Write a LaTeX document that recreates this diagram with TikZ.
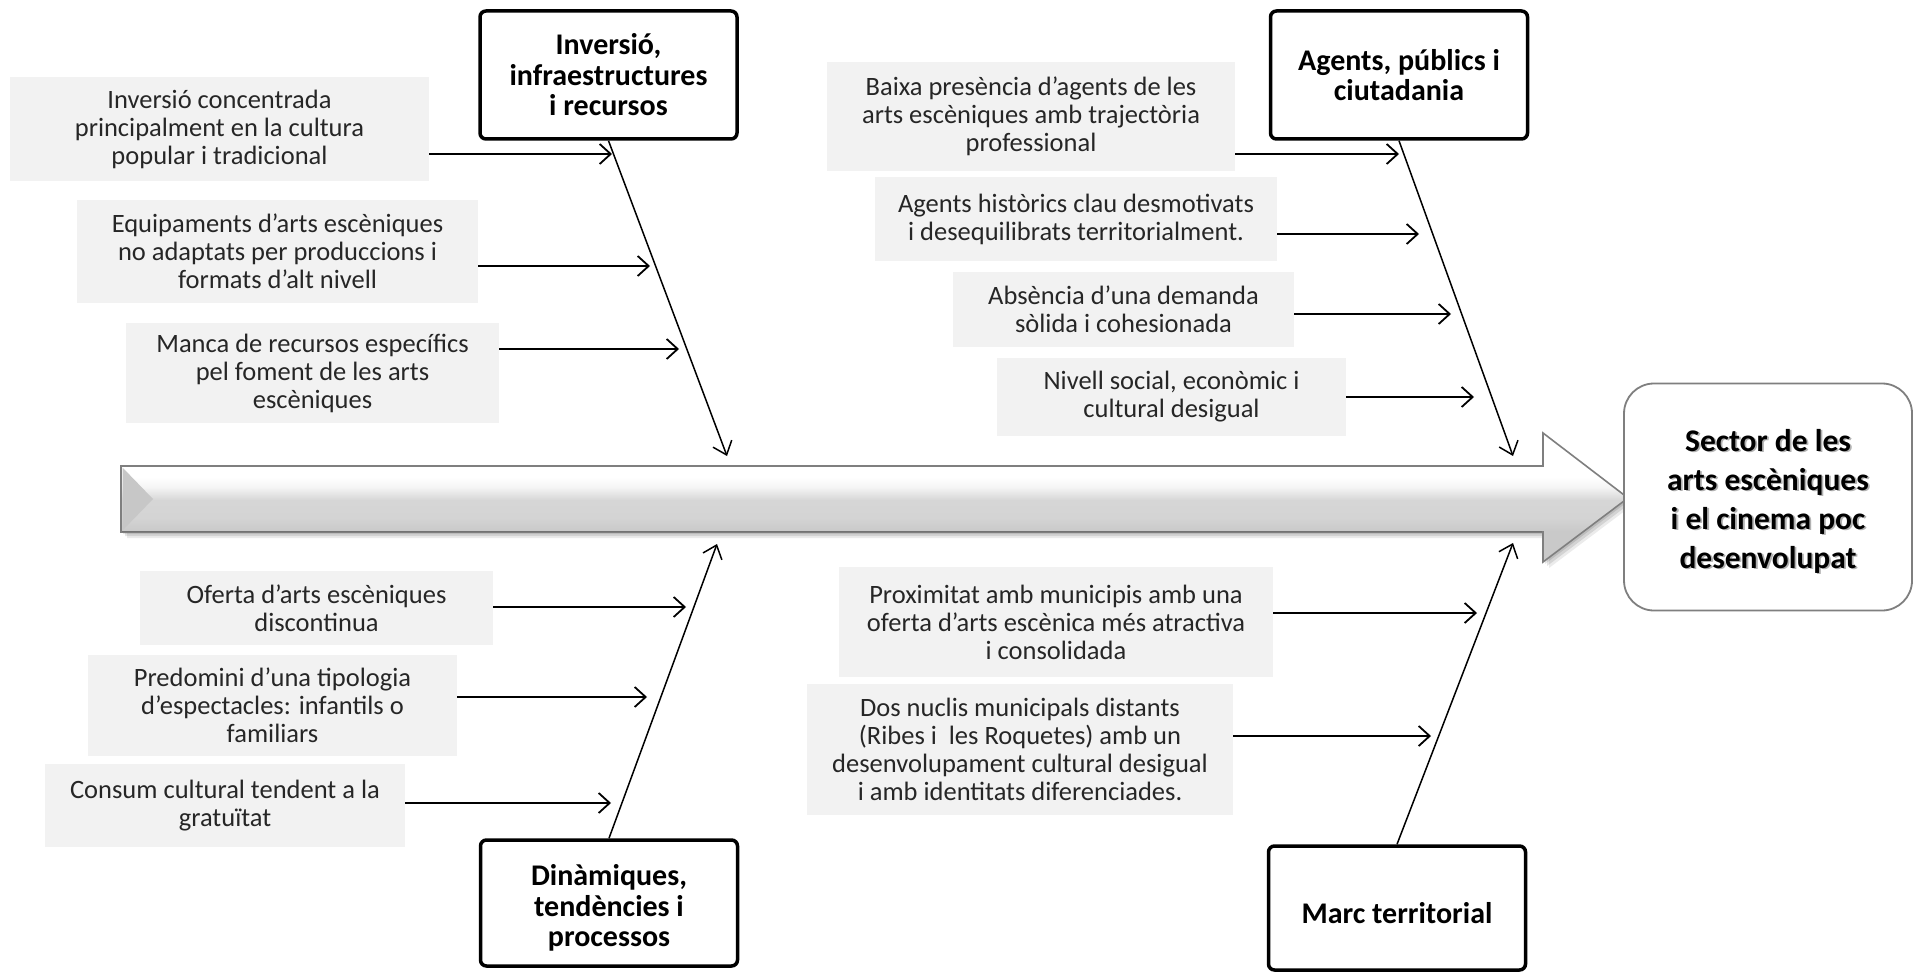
\documentclass[tikz,border=0pt]{standalone}
\usepackage{fontspec}
\setmainfont{Carlito}
\usetikzlibrary{arrows.meta}
\definecolor{boxgray}{HTML}{F2F2F2}
\definecolor{txt}{HTML}{262626}
\definecolor{edgegray}{HTML}{7F7F7F}
\pgfdeclareverticalshading{spineshade}{100bp}{color(0bp)=(black!22); color(37bp)=(black!21); color(42bp)=(black!17); color(49bp)=(black!16); color(54bp)=(black!4); color(58bp)=(white); color(100bp)=(white)}
\newcommand\shtxt[1]{\makebox[0pt][l]{\hspace{1.8pt}\raisebox{-1.8pt}{\color{black!30}#1}}#1}
\begin{document}
\begin{tikzpicture}[x=1pt,y=-1pt,
  gbox/.style={fill=boxgray, inner sep=0pt, align=center, text=txt, font=\fontsize{26.5}{28}\selectfont},
  catbox/.style={draw=black, line width=3.5pt, rounded corners=6pt, fill=white, inner sep=0pt, align=center, font=\bfseries\fontsize{30}{30.5}\selectfont, minimum width=257pt},
  feed/.style={-{Straight Barb[length=11pt,width=20pt,line width=1.8pt]}, line width=2pt, black},
  spine/.style={-{Straight Barb[length=12pt,width=20pt,line width=1.5pt]}, line width=1.5pt, black}]
\useasboundingbox (0,0) rectangle (1913,973);
\fill[white] (0,0) rectangle (1913,973);

% big arrow shadow
\foreach \d/\o in {2/0.10,4/0.10,6/0.08}{
  \fill[black, opacity=\o, shift={(\d,\d)}] (121,466) -- (1543,466) -- (1543,433) -- (1628,498) -- (1543,562) -- (1543,532) -- (121,532) -- cycle;
}
% big arrow
\draw[draw=edgegray, line width=1.6pt, shading=spineshade] (121,466) -- (1543,466) -- (1543,433) -- (1628,498) -- (1543,562) -- (1543,532) -- (121,532) -- cycle;
\fill[black!22] (122.5,467.5) -- (153,499) -- (122.5,530.5) -- cycle;
\draw[black!55, line width=1pt] (122,531) -- (1542,531);

% goal box
\node[draw=edgegray, line width=1.8pt, rounded corners=30pt, fill=white, minimum width=288pt, minimum height=227pt, align=center, inner sep=0pt, font=\bfseries\fontsize{31.5}{39}\selectfont] (goal) at (1768,497) {\rule{0pt}{32pt}\shtxt{Sector de les}\\\shtxt{arts escèniques}\\\shtxt{i el cinema poc}\\\shtxt{desenvolupat}};

% category boxes
\node[catbox, minimum height=128pt] (b1) at (608.5,75) {Inversió,\\infraestructures\\i recursos};
\node[catbox, minimum height=128pt] (b2) at (1399,75) {Agents, públics i\\ciutadania};
\node[catbox, minimum height=126pt] (b3) at (609,903) {\rule{0pt}{31pt}Dinàmiques,\\tendències i\\processos};
\node[catbox, minimum height=124pt] (b4) at (1397,908) {\rule{0pt}{32pt}Marc territorial};

% cause boxes
\node[gbox, minimum width=419pt, minimum height=104pt] (t1) at (219.5,129) {Inversió concentrada\\principalment en la cultura\\popular i tradicional};
\node[gbox, minimum width=401pt, minimum height=103pt] (t2) at (277.5,251.5) {Equipaments d’arts escèniques\\no adaptats per produccions i\\formats d’alt nivell};
\node[gbox, minimum width=373pt, minimum height=100pt] (t3) at (312.5,373) {Manca de recursos específics\\pel foment de les arts\\escèniques};
\node[gbox, minimum width=408pt, minimum height=109pt] (t4) at (1031,116.5) {Baixa presència d’agents de les\\arts escèniques amb trajectòria\\professional};
\node[gbox, minimum width=402pt, minimum height=84pt] (t5) at (1076,219) {Agents històrics clau desmotivats\\i desequilibrats territorialment.};
\node[gbox, minimum width=341pt, minimum height=75pt] (t6) at (1123.5,309.5) {Absència d’una demanda\\sòlida i cohesionada};
\node[gbox, minimum width=349pt, minimum height=78pt] (t7) at (1171.5,397) {Nivell social, econòmic i\\cultural desigual};
\node[gbox, minimum width=353pt, minimum height=74pt] (t8) at (316.5,608) {Oferta d’arts escèniques\\discontinua};
\node[gbox, minimum width=369pt, minimum height=101pt] (t9) at (272.5,705) {Predomini d’una tipologia\\d’espectacles: infantils o\\familiars};
\node[gbox, minimum width=360pt, minimum height=83pt] (t10) at (225,805.5) {Consum cultural tendent a la\\gratuïtat};
\node[gbox, minimum width=434pt, minimum height=110pt] (t11) at (1056,622) {Proximitat amb municipis amb una\\oferta d’arts escènica més atractiva\\i consolidada};
\node[gbox, minimum width=426pt, minimum height=131pt] (t12) at (1020,749.5) {Dos nuclis municipals distants\\(Ribes i\ \ les Roquetes) amb un\\desenvolupament cultural desigual\\i amb identitats diferenciades.};

% spine tips
\coordinate (s1) at (727,456);
\coordinate (s2) at (1513,456);
\coordinate (s3) at (717,544);
\coordinate (s4) at (1513,543);
\draw[spine] (b1.south) -- (s1);
\draw[spine] (b2.south) -- (s2);
\draw[spine] (b3.north) -- (s3);
\draw[spine] (b4.north) -- (s4);

% feed arrow ends
\coordinate (e1) at (612,154);
\coordinate (e2) at (650,266);
\coordinate (e3) at (679,349);
\coordinate (e4) at (1399,154);
\coordinate (e5) at (1419,234);
\coordinate (e6) at (1451,314);
\coordinate (e7) at (1474,397);
\coordinate (e8) at (686,607);
\coordinate (e9) at (647,697);
\coordinate (e10) at (611,803);
\coordinate (e11) at (1477,613);
\coordinate (e12) at (1431,736);
\foreach \i in {1,...,12}{
  \draw[feed] (t\i.east |- e\i) -- (e\i);
}
\end{tikzpicture}
\end{document}
